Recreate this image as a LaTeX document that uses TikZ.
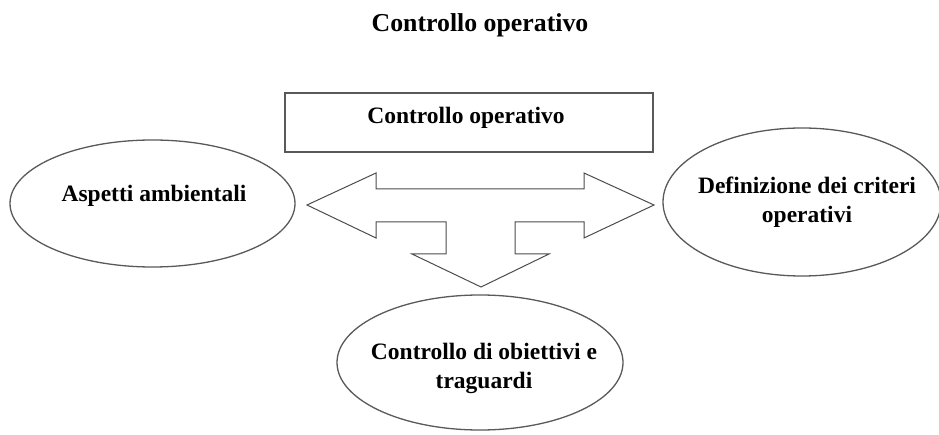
\documentclass[tikz,border=0pt]{standalone}
\usepackage{fontspec}
\setmainfont{Liberation Serif}
\usetikzlibrary{shapes.geometric,positioning}

\begin{document}
\begin{tikzpicture}[x=1pt,y=-1pt,
    shape line/.style={draw=black!65,line width=1.3pt},
    label text/.style={font=\bfseries\fontsize{23.5}{29}\selectfont,align=center}]
    \clip (0,0) rectangle (939,435);

    %title
    \node[font=\bfseries\fontsize{25.8}{30}\selectfont] (title) at (480,25) {Controllo operativo};

    \begin{scope}[every node/.style={shape line,inner sep=0pt}]
        %box
        \node[rectangle,minimum width=368pt,minimum height=59pt] (box) at (469,122.5) {};

        %ellipses
        \node[ellipse,minimum width=285pt,minimum height=127pt] (aspetti) at (152.5,203.5) {};
        \node[ellipse,minimum width=278pt,minimum height=148pt] (criteri) at (802,202) {};
        \node[ellipse,minimum width=286pt,minimum height=135pt] (obiettivi) at (480,362.5) {};
    \end{scope}

    %texts
    \node[label text] (boxtext) at (466,118) {Controllo operativo};
    \node[label text] (aspettitext) at (154,196) {Aspetti ambientali};
    \node[label text] (criteritext) at (807,202) {Definizione dei criteri\\operativi};
    \node[label text] (obiettivitext) at (484,368) {Controllo di obiettivi e\\traguardi};

    %arrow
    \draw[draw=black!70,line width=1pt,line join=miter]
        (307,205) -- (376,173) -- (376,189) -- (584,189) -- (584,173) -- (654,205)
        -- (584,238) -- (584,222) -- (515,222) -- (515,254) -- (549,254) -- (481,287)
        -- (412,254) -- (446,254) -- (446,222) -- (376,222) -- (376,238) -- cycle;
\end{tikzpicture}
\end{document}
